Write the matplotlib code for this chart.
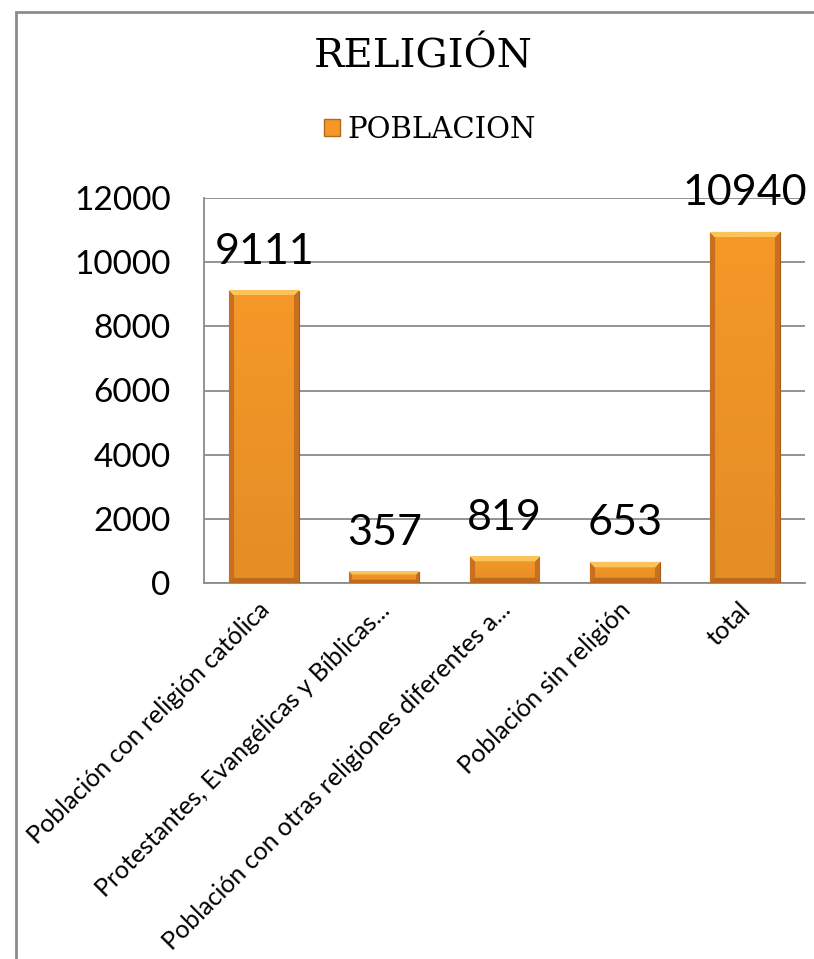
#!/usr/bin/env python

# Bar chart "RELIGIÓN" with bevelled orange bars.

import numpy as np
import matplotlib
matplotlib.use("Agg")
import matplotlib.pyplot as plt
from matplotlib.patches import Rectangle, Patch
from matplotlib.transforms import ScaledTranslation

categorias = [
  "Población con religión católica",
  "Protestantes, Evangélicas y Bíblicas...",
  "Población con otras religiones diferentes a...",
  "Población sin religión",
  "total",
]
poblacion = [9111, 357, 819, 653, 10940]
yticks = [0, 2000, 4000, 6000, 8000, 10000, 12000]

SANS = ["Lato", "DejaVu Sans"]
SERIF = ["DejaVu Serif"]
GRID = "#8a8a8a"
BASE = np.array([245, 152, 40]) / 255.0
LIGHT = np.array([250, 196, 90]) / 255.0
DARK = np.array([200, 112, 32]) / 255.0

def bevel_image(h, w, bev=5):
  # h, w in pixels; build rgb array with lighter top and darker sides/bottom
  h = max(int(h), 2)
  w = max(int(w), 2)
  img = np.ones((h, w, 3)) * BASE
  yy, xx = np.mgrid[0:h, 0:w]
  # slight vertical shading of the body
  shade = 0.93 + 0.07 * (1 - yy / h)
  img = img * shade[..., None]
  b = min(bev, max(h // 3, 1))
  d_left = xx
  d_right = w - 1 - xx
  d_top = yy
  d_bot = h - 1 - yy
  dmin = np.minimum(np.minimum(d_left, d_right), np.minimum(d_top, d_bot))
  edge = dmin < b
  top = edge & (d_top == dmin)
  side = edge & ~top
  img[top] = LIGHT
  img[side] = DARK
  img[(d_bot == dmin) & edge & ~top] = DARK * 0.95
  return np.clip(img, 0, 1)

fig = plt.figure(figsize=(8.14, 9.59), dpi=100)
ax = fig.add_axes([204 / 814, 1 - 583 / 959, 601 / 814, 385 / 959])

x = np.arange(len(categorias))
width = 0.58
ax.set_xlim(-0.5, len(categorias) - 0.5)
ax.set_ylim(0, 12000)

bars = ax.bar(x, poblacion, width, color=BASE, edgecolor="#a85a18", linewidth=0.8, zorder=3)
fig.canvas.draw()
for b in bars:
  x0, y0 = ax.transData.transform((b.get_x(), 0))
  x1, y1 = ax.transData.transform((b.get_x() + b.get_width(), b.get_height()))
  img = bevel_image(y1 - y0, x1 - x0)
  ax.imshow(img, extent=(b.get_x(), b.get_x() + b.get_width(), 0, b.get_height()),
            aspect="auto", interpolation="bilinear", zorder=3.5)

ax.set_xlim(-0.5, len(categorias) - 0.5)
ax.set_ylim(0, 12000)

for i, v in enumerate(poblacion):
  ax.annotate(str(v), (x[i], v), xytext=(0, 28), textcoords="offset points",
              ha="center", va="center", fontsize=31, family=SANS, zorder=5)

ax.set_yticks(yticks)
ax.set_yticklabels([str(t) for t in yticks], family=SANS, fontsize=24)
ax.yaxis.grid(True, color=GRID, linewidth=1.3, zorder=0)
ax.set_axisbelow(True)
ax.tick_params(axis="y", length=0, pad=24)
ax.set_xticks(x)
ax.set_xticklabels(categorias, rotation=45, ha="right", va="top",
                   rotation_mode="anchor", family=SANS, fontsize=18)
ax.tick_params(axis="x", length=0, pad=11)
shift = ScaledTranslation(-6 / 100, 0, fig.dpi_scale_trans)
for lab in ax.get_xticklabels():
  lab.set_transform(lab.get_transform() + shift)
for s in ["top", "right"]:
  ax.spines[s].set_visible(False)
for s in ["left", "bottom"]:
  ax.spines[s].set_color(GRID)
  ax.spines[s].set_linewidth(1.3)

fig.text(423 / 814, 1 - 57 / 959, "RELIGIÓN", ha="center", va="center",
         family=SERIF, fontsize=29)

fig.legend(handles=[Patch(facecolor=BASE, edgecolor="#b06a20")], labels=["POBLACION"],
           loc="center", bbox_to_anchor=(430 / 814, 1 - 130 / 959), frameon=False,
           prop={"family": SERIF, "size": 21}, handlelength=0.55, handleheight=0.55,
           handletextpad=0.25)

fig.add_artist(Rectangle((16 / 814, -0.1), 1.2, 1 - 12 / 959 + 0.1, transform=fig.transFigure,
                         fill=False, edgecolor="#8c8c8c", linewidth=2))

fig.savefig("out.png", dpi=100)
